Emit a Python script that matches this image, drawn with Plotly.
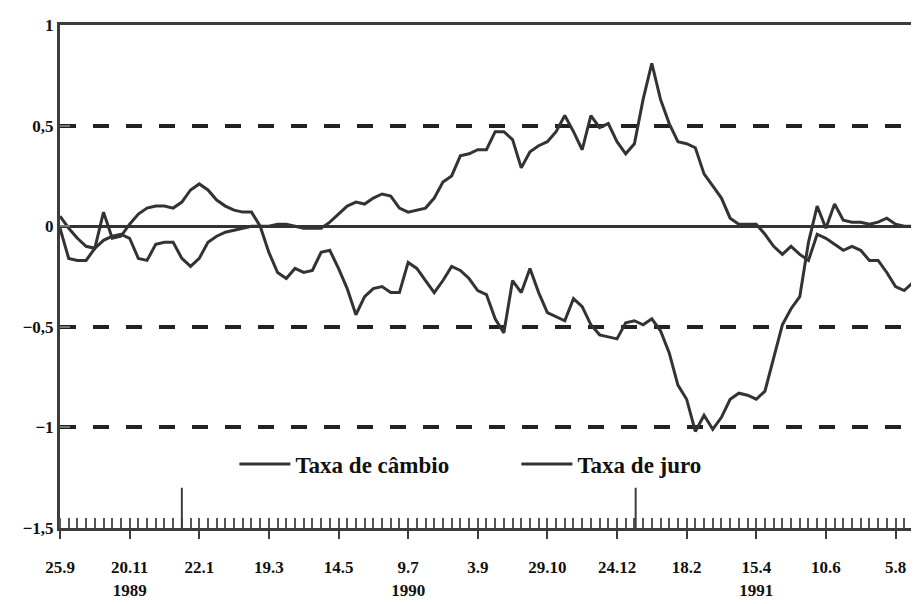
import datetime as dt
import plotly.graph_objects as go

# ---- data (weekly observations, week 0 = 25.9.1989) ----
weeks = list(range(100))

taxa_cambio = [
    0.05, -0.01, -0.06, -0.10, -0.11, 0.07, -0.06, -0.05, 0.01, 0.06,
    0.09, 0.10, 0.10, 0.09, 0.12, 0.18, 0.21, 0.18, 0.13, 0.10,
    0.08, 0.07, 0.07, 0.00, -0.13, -0.23, -0.26, -0.21, -0.23, -0.22,
    -0.13, -0.12, -0.21, -0.31, -0.44, -0.35, -0.31, -0.30, -0.33, -0.33,
    -0.18, -0.21, -0.27, -0.33, -0.27, -0.20, -0.22, -0.26, -0.32, -0.34,
    -0.46, -0.53, -0.27, -0.33, -0.21, -0.33, -0.43, -0.45, -0.47, -0.36,
    -0.40, -0.49, -0.54, -0.55, -0.56, -0.48, -0.47, -0.49, -0.46, -0.52,
    -0.63, -0.79, -0.86, -1.02, -0.94, -1.01, -0.95, -0.86, -0.83, -0.84,
    -0.86, -0.82, -0.65, -0.49, -0.41, -0.35, -0.08, 0.10, -0.01, 0.11,
    0.03, 0.02, 0.02, 0.01, 0.02, 0.04, 0.01, 0.00, 0.00, 0.00,
]

taxa_juro = [
    -0.01, -0.16, -0.17, -0.17, -0.11, -0.07, -0.05, -0.04, -0.06, -0.16,
    -0.17, -0.09, -0.08, -0.08, -0.16, -0.20, -0.16, -0.08, -0.05, -0.03,
    -0.02, -0.01, 0.00, 0.00, 0.00, 0.01, 0.01, 0.00, -0.01, -0.01,
    -0.01, 0.02, 0.06, 0.10, 0.12, 0.11, 0.14, 0.16, 0.15, 0.09,
    0.07, 0.08, 0.09, 0.14, 0.22, 0.25, 0.35, 0.36, 0.38, 0.38,
    0.47, 0.47, 0.43, 0.29, 0.37, 0.40, 0.42, 0.47, 0.55, 0.47,
    0.38, 0.55, 0.49, 0.51, 0.42, 0.36, 0.41, 0.63, 0.81, 0.63,
    0.51, 0.42, 0.41, 0.39, 0.26, 0.20, 0.14, 0.04, 0.01, 0.01,
    0.01, -0.04, -0.10, -0.14, -0.10, -0.14, -0.17, -0.04, -0.06, -0.09,
    -0.12, -0.10, -0.12, -0.17, -0.17, -0.23, -0.30, -0.32, -0.28, -0.22,
]

tick_weeks = [0, 8, 16, 24, 32, 40, 48, 56, 64, 72, 80, 88, 96]
tick_labels = ["25.9", "20.11<br>1989", "22.1", "19.3", "14.5", "9.7<br>1990",
               "3.9", "29.10", "24.12", "18.2", "15.4<br>1991", "10.6", "5.8"]

y_ticks = [1, 0.5, 0, -0.5, -1, -1.5]
y_labels = ["1", "0,5", "0", "\u22120,5", "\u22121", "\u22121,5"]

start_date = dt.date(1989, 9, 25)
year_starts = [dt.date(1990, 1, 1), dt.date(1991, 1, 1)]

# ---- figure ----
line_col = "#333333"
axis_col = "#3c3c3c"
serif = "Liberation Serif"

fig = go.Figure()
fig.add_trace(go.Scatter(x=weeks, y=taxa_cambio, mode="lines", name="Taxa de câmbio",
                         line=dict(color=line_col, width=3)))
fig.add_trace(go.Scatter(x=weeks, y=taxa_juro, mode="lines", name="Taxa de juro",
                         line=dict(color=line_col, width=3)))

for d in year_starts:
    wk = (d - start_date).days / 7.0
    fig.add_shape(type="line", xref="x", yref="y", x0=wk, x1=wk, y0=-1.5, y1=-1.3,
                  line=dict(color=axis_col, width=2))

fig.update_layout(
    width=919, height=604,
    margin=dict(l=52, r=8, t=10, b=84),
    paper_bgcolor="white", plot_bgcolor="white",
    showlegend=True,
    legend=dict(orientation="h", x=0.203, y=0.127, xanchor="left", yanchor="middle",
                bgcolor="rgba(0,0,0,0)", entrywidth=216, entrywidthmode="pixels",
                itemwidth=51,
                font=dict(family=serif, size=23, color="#111", weight="bold")),
    xaxis=dict(
        range=[0, 98.7], showgrid=False, zeroline=False,
        showline=True, linecolor=axis_col, linewidth=3, mirror=True,
        tickmode="array", tickvals=tick_weeks, ticktext=tick_labels,
        ticks="outside", ticklen=8, tickwidth=2, tickcolor=axis_col,
        ticklabelstandoff=14,
        tickfont=dict(family=serif, size=17, color="#111", weight="bold"),
        minor=dict(ticks="inside", ticklen=10, tickwidth=2, tickcolor="#555",
                   dtick=1, tick0=0, showgrid=False),
    ),
    yaxis=dict(
        range=[-1.5, 1], showline=True, linecolor=axis_col, linewidth=3, mirror=False,
        tickmode="array", tickvals=y_ticks, ticktext=y_labels,
        ticks="inside", ticklen=10, tickwidth=2, tickcolor="#777",
        tickfont=dict(family=serif, size=17, color="#111", weight="bold"),
        showgrid=True, gridcolor="#222", gridwidth=3.5, griddash="16px,17px",
        zeroline=True, zerolinecolor=line_col, zerolinewidth=3,
    ),
)

fig.write_html("out.html")
